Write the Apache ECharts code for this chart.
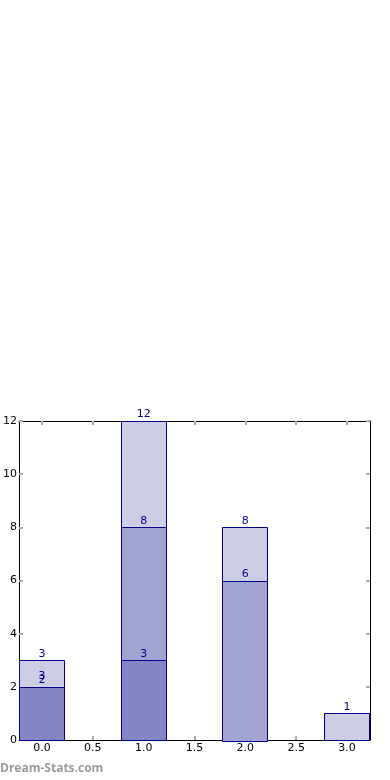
<!DOCTYPE html>
<html><head><meta charset="utf-8">
<script src="https://cdn.jsdelivr.net/npm/echarts@6/dist/echarts.min.js"></script>
<style>html,body{margin:0;padding:0;background:#fff}#c{width:390px;height:780px}</style>
</head><body><div id="c"></div>
<script>
const xPositions = [0, 1, 2, 3];
const totalValues = [3, 12, 8, 1];
const midValues = [2, 8, 6, 0];
const darkValues = [2, 3, 0, 0];
const totalLabels = ["3", "12", "8", "1"];
const midLabels = ["3", "8", "6", ""];
const darkLabels = ["2", "3", "", ""];
const xTicks = [0, 0.5, 1, 1.5, 2, 2.5, 3];
const yTicks = [0, 2, 4, 6, 8, 10, 12];

const HALF = 0.225;
const FONT = 'DejaVu Sans';

function makeSeries(name, values, labels, color, labelShift) {
  return {
    type: 'custom', name: name,
    data: xPositions.map((x, i) => [x, values[i], i]),
    encode: {x: 0, y: 1},
    clip: false,
    renderItem: function (params, api) {
      const x = api.value(0), v = api.value(1), i = api.value(2);
      if (!v) return null;
      const p0 = api.coord([x - HALF, v]);
      const p1 = api.coord([x + HALF, 0]);
      const shift = labelShift ? labelShift[i] : 0;
      return {
        type: 'group',
        children: [
          {type: 'rect', shape: {x: Math.round(p0[0]) + 0.5, y: Math.round(p0[1]) + 0.5, width: Math.round(p1[0] - p0[0]) - 1, height: Math.round(p1[1] - p0[1])},
           style: {fill: color, stroke: '#00008b', lineWidth: 1}},
          {type: 'text', x: (p0[0] + p1[0]) / 2, y: p0[1] - 1 - shift, z2: 10,
           style: {text: labels[i], fill: '#00008b', font: '11px "' + FONT + '"', align: 'center', verticalAlign: 'bottom'}}
        ]
      };
    }
  };
}

const midShift = xPositions.map((x, i) => (midValues[i] === darkValues[i] ? 4 : 0));

const chart = echarts.init(document.getElementById('c'), null, {renderer: 'canvas'});
const tickStyle = {show: true, inside: true, length: 4, lineStyle: {color: '#aaaaaa', width: 2}};
chart.setOption({
  animation: false,
  grid: {left: 19, right: 20, top: 421, bottom: 40, containLabel: false},
  xAxis: [
    {type: 'value', min: -HALF, max: 3 + HALF, position: 'bottom',
     axisLine: {show: true, onZero: false, lineStyle: {color: '#000', width: 1}},
     axisTick: Object.assign({}, tickStyle, {customValues: xTicks}),
     axisLabel: {customValues: xTicks, color: '#000', fontFamily: FONT, fontSize: 11, margin: 3, formatter: v => v.toFixed(1)},
     splitLine: {show: false}},
    {type: 'value', min: -HALF, max: 3 + HALF, position: 'top',
     axisLine: {show: true, onZero: false, lineStyle: {color: '#000', width: 1}},
     axisTick: Object.assign({}, tickStyle, {customValues: xTicks}),
     axisLabel: {show: false}, splitLine: {show: false}}
  ],
  yAxis: [
    {type: 'value', min: 0, max: 12, interval: 2, position: 'left',
     axisLine: {show: true, onZero: false, lineStyle: {color: '#000', width: 1}},
     axisTick: tickStyle,
     axisLabel: {color: '#000', fontFamily: FONT, fontSize: 11, margin: 2},
     splitLine: {show: false}},
    {type: 'value', min: 0, max: 12, interval: 2, position: 'right',
     axisLine: {show: true, onZero: false, lineStyle: {color: '#000', width: 1}},
     axisTick: tickStyle,
     axisLabel: {show: false}, splitLine: {show: false}}
  ],
  graphic: [{type: 'text', left: 0, top: 763,
    style: {text: 'Dream-Stats.com', fill: '#999999', font: 'bold 12px "Open Sans"'}}],
  series: [
    makeSeries('total', totalValues, totalLabels, '#cdcde5'),
    makeSeries('mid', midValues, midLabels, '#a3a3d2', midShift),
    makeSeries('dark', darkValues, darkLabels, '#8585c4')
  ]
});
</script></body></html>
